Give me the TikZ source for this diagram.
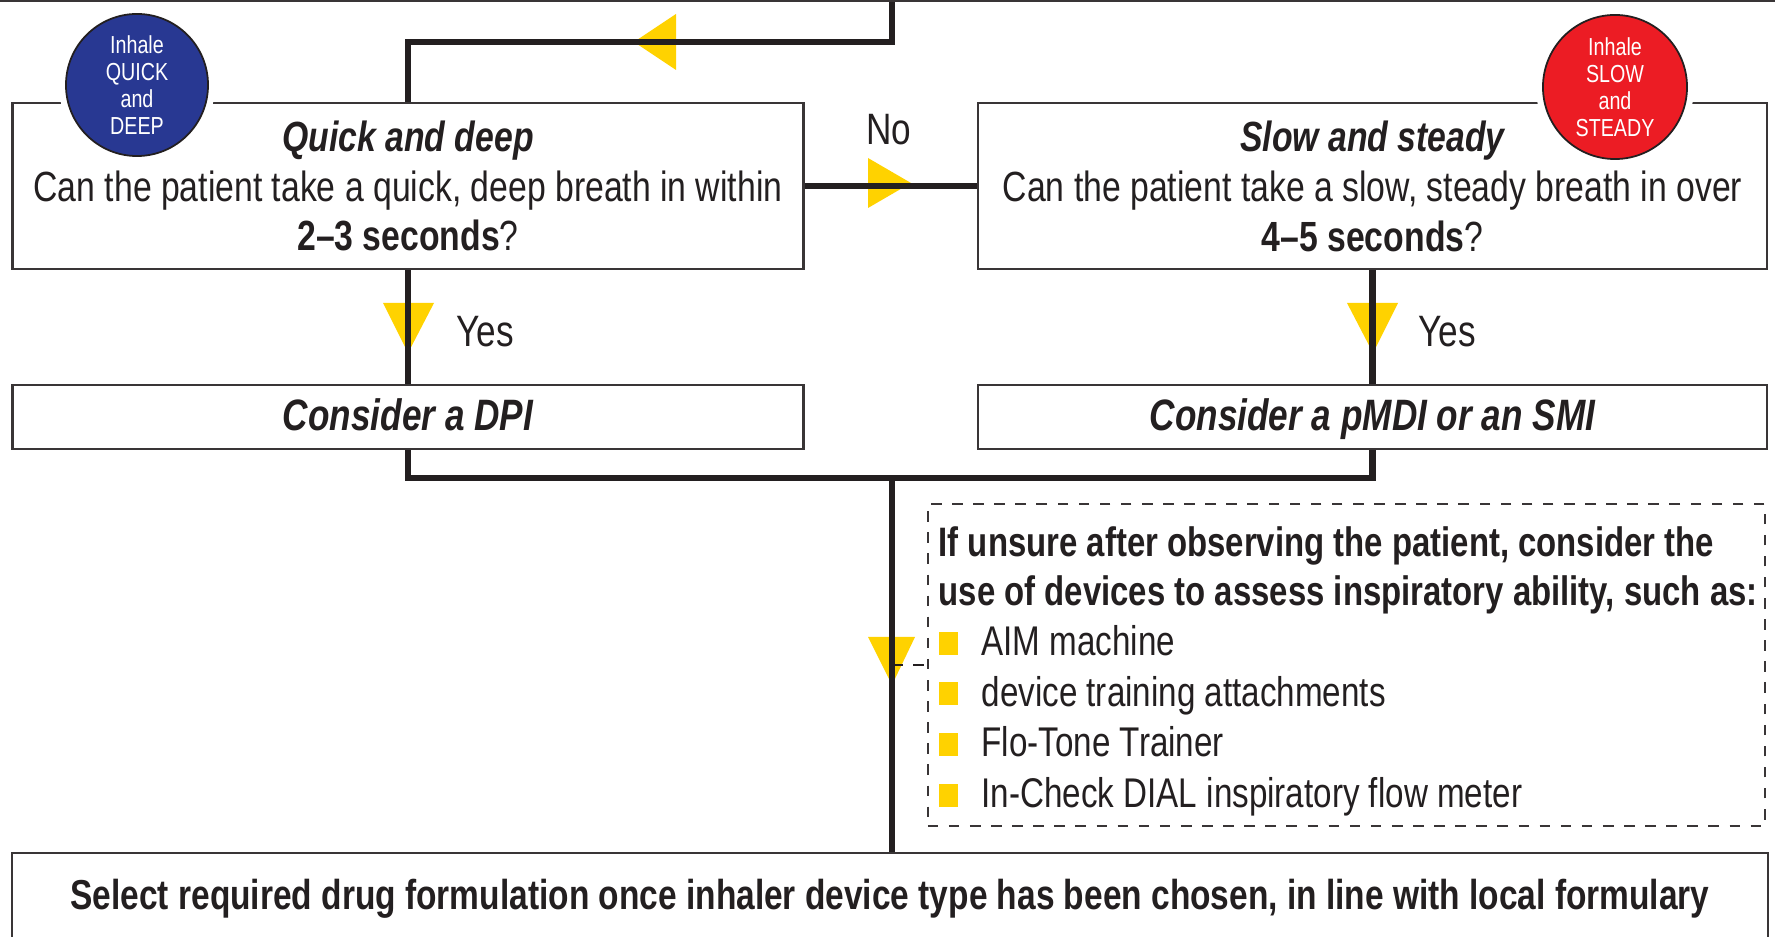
\documentclass[tikz,border=0pt]{standalone}
\usepackage{fontspec}
\setmainfont[FakeStretch=0.8]{Liberation Sans}
\definecolor{inkblue}{RGB}{40,56,146}
\definecolor{inkred}{RGB}{236,28,36}
\definecolor{inkyellow}{RGB}{255,210,0}
\definecolor{ink}{RGB}{35,31,32}
\newcommand{\bul}{{\color{inkyellow}\rule[0.3pt]{5.4pt}{6.5pt}}\hspace{6.8pt}}
\begin{document}
\begin{tikzpicture}[x=0.01cm, y=-0.01cm, line join=miter, font=\fontsize{12}{14.2}\selectfont,
 qbox/.style={draw=ink!90, line width=0.6pt, fill=white, align=center, inner sep=0pt, text=ink},
 badge/.style={circle, draw=ink, line width=0.5pt, preaction={draw=white, line width=4pt}, text=white, align=center, inner sep=0pt, font=\fontsize{7}{7.7}\selectfont},
 conn/.style={draw=ink, line width=1.9pt},
 tip/.style={fill=inkyellow},
 lbl/.style={text=ink, inner sep=0pt, font=\fontsize{12.5}{15}\selectfont}]
 \useasboundingbox (0,0) rectangle (1775,937);
 \clip (0,0) rectangle (1775,937);
 \node[qbox, minimum width=18cm, minimum height=1cm] (prev) at (893,-49) {};
 \node[qbox, minimum width=7.905cm, minimum height=1.66cm] (quick) at (408,186) {{\bfseries\itshape Quick and deep}\\Can the patient take a quick, deep breath in within\\{\bfseries 2--3 seconds}?};
 \node[qbox, minimum width=7.89cm, minimum height=1.66cm] (slow) at (1372.5,186) {{\bfseries\itshape Slow and steady}\\Can the patient take a slow, steady breath in over\\{\bfseries 4--5 seconds}?};
 \node[qbox, minimum width=7.905cm, minimum height=0.64cm, text height=9.4pt, text depth=2pt, font=\fontsize{12.5}{15}\selectfont\bfseries\itshape] (dpi) at (408,417) {Consider a DPI};
 \node[qbox, minimum width=7.89cm, minimum height=0.64cm, text height=9.4pt, text depth=2pt, font=\fontsize{12.5}{15}\selectfont\bfseries\itshape] (pmdi) at (1372.5,417) {Consider a pMDI or an SMI};
 \node[qbox, dashed, minimum width=8.37cm, minimum height=3.22cm] (note) at (1346.5,665) {};
 \node[text=ink, anchor=north west, align=left, inner sep=0pt, font=\fontsize{11.8}{14.4}\selectfont] (notetext) at (938,526) {\bfseries\fontsize{11.7}{14.4}\selectfont If unsure after observing the patient, consider the\\[-0.6pt]\bfseries\fontsize{11.7}{14.4}\selectfont use of devices to assess inspiratory ability, such as:\\\bul AIM machine\\\bul device training attachments\\\bul Flo-Tone Trainer\\\bul In-Check DIAL inspiratory flow meter};
 \node[qbox, minimum width=17.545cm, minimum height=0.92cm, font=\fontsize{11.9}{14}\selectfont\bfseries] (select) at (890,899) {Select required drug formulation once inhaler device type has been chosen, in line with local formulary};
 \node[badge, fill=inkblue, minimum size=1.42cm] (quickbadge) at (137,85) {Inhale\\QUICK\\and\\DEEP};
 \node[badge, fill=inkred, minimum size=1.44cm] (slowbadge) at (1615,87) {Inhale\\SLOW\\and\\STEADY};
 \coordinate (bend) at (892,42);
 \coordinate (merge) at (892,478);
 \fill[tip] (634,42) -- (676,14) -- (676,70) -- cycle;
 \fill[tip] (868,158) -- (911,183) -- (868,208) -- cycle;
 \fill[tip] (383,303) -- (434,303) -- (408,353) -- cycle;
 \fill[tip] (1347,303) -- (1398,303) -- (1373,353) -- cycle;
 \fill[tip] (868,637) -- (915,637) -- (892,685) -- cycle;
 \draw[conn] (prev.south -| bend) -- (bend) -| (quick.north);
 \draw[conn] (quick) -- (slow);
 \draw[conn] (quick) -- (dpi);
 \draw[conn] (slow) -- (pmdi);
 \draw[conn] (dpi.south) |- (merge) -| (pmdi.south);
 \draw[conn] (merge) -- (merge |- select.north);
 \draw[dashed, line width=0.6pt, ink] (merge |- note.west) -- (note.west);
 \node[lbl] (no) at (889,130) {No};
 \node[lbl] (yesleft) at (485,332) {Yes};
 \node[lbl] (yesright) at (1447,332) {Yes};
\end{tikzpicture}
\end{document}
